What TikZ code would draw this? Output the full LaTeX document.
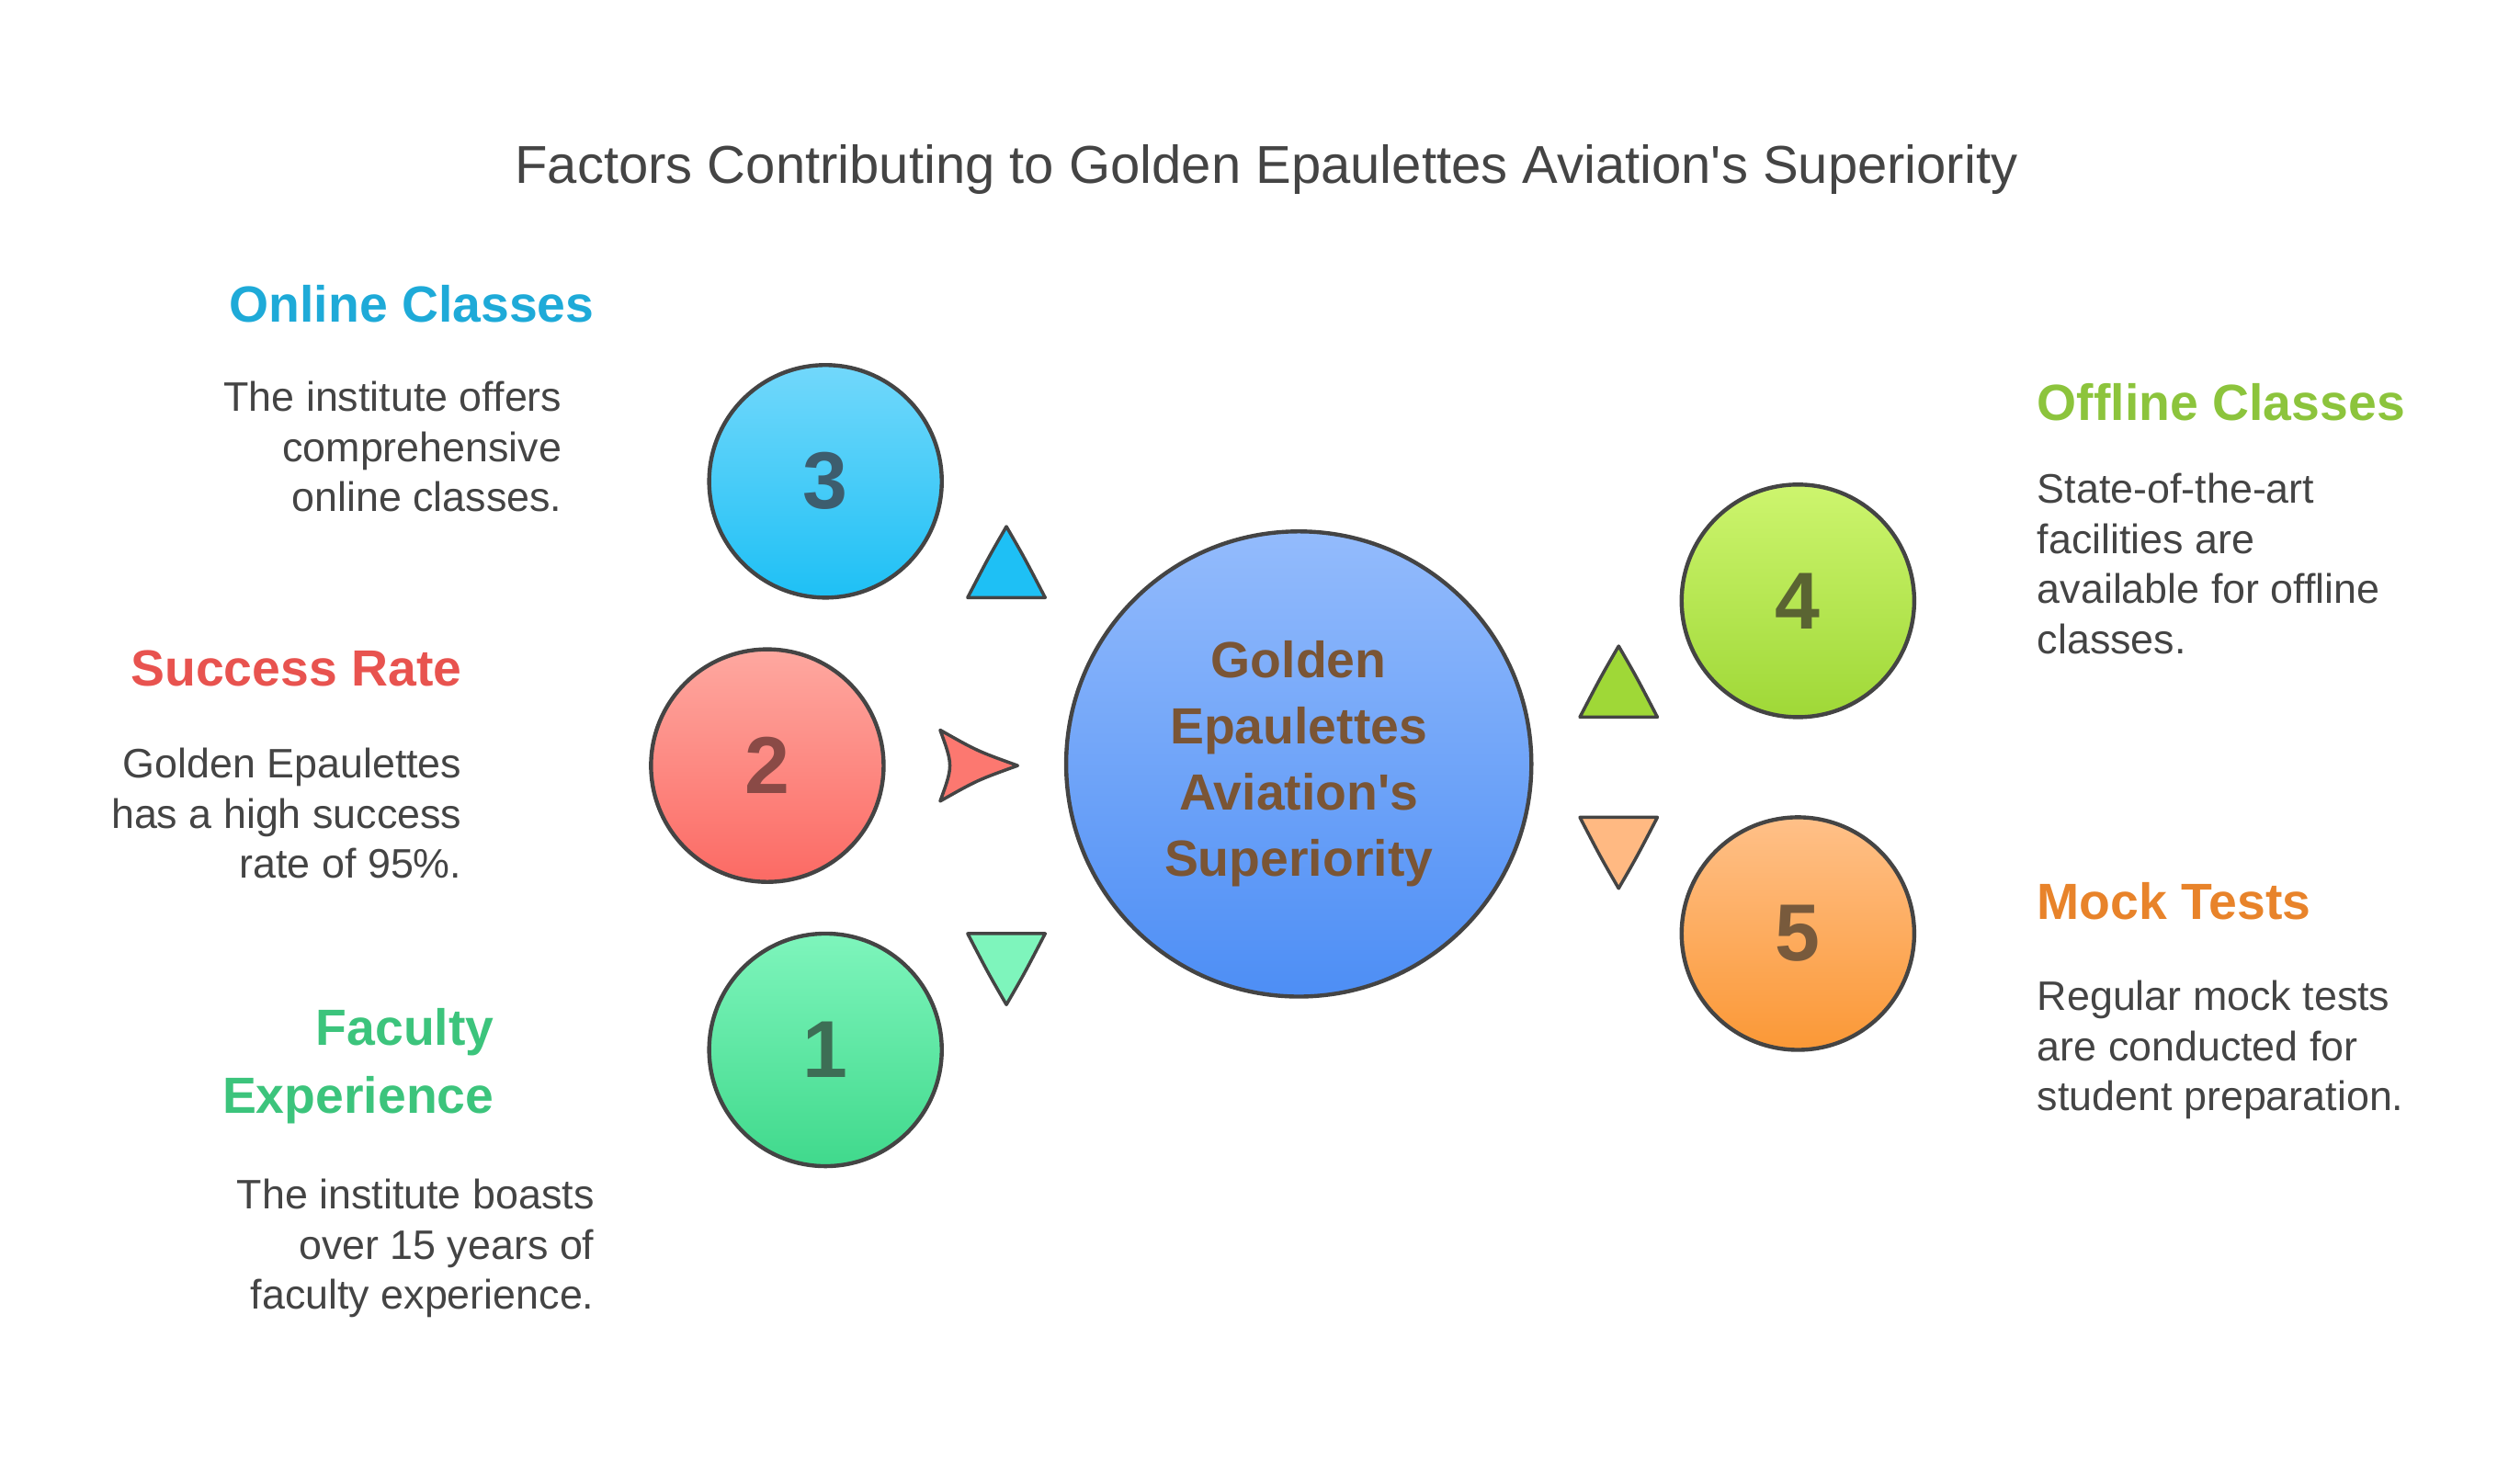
\documentclass[tikz,border=0pt]{standalone}
\usepackage{fontspec}
\setmainfont{Liberation Sans}
\definecolor{txt}{HTML}{444444}
\definecolor{brn}{HTML}{7A5535}
\begin{document}
\begin{tikzpicture}[x=1pt,y=-1pt,
  circ/.style={circle,draw=txt,line width=2.5pt,minimum size=144pt,inner sep=0pt,font=\fontsize{50}{50}\selectfont\bfseries},
  head/.style={inner sep=0pt,font=\fontsize{31.5}{31}\selectfont\bfseries},
  body/.style={inner sep=0pt,text=txt,font=\fontsize{25.5}{31}\selectfont},
  tri/.style={draw=txt,line width=2pt,line join=round}]
\useasboundingbox (0,0) rectangle (1560,905);
\node[text=txt,font=\fontsize{33}{36}\selectfont] (title) at (784,105) {Factors Contributing to Golden Epaulettes Aviation\textquotesingle s Superiority};
\node[circ,minimum size=288pt,bottom color={rgb,255:red,77;green,142;blue,245},top color={rgb,255:red,147;green,187;blue,252},text=brn,align=center,font=\fontsize{31.5}{41}\selectfont\bfseries] (c) at (804,473) {Golden\\Epaulettes\\Aviation\textquotesingle s\\Superiority};
\node[circ,top color={rgb,255:red,114;green,216;blue,251},bottom color={rgb,255:red,30;green,192;blue,245},text={rgb,255:red,61;green,93;blue,110}] (n3) at (511,298) {3};
\node[circ,top color={rgb,255:red,254;green,168;blue,160},bottom color={rgb,255:red,252;green,106;blue,100},text={rgb,255:red,138;green,74;blue,70}] (n2) at (475,474) {2};
\node[circ,top color={rgb,255:red,126;green,245;blue,188},bottom color={rgb,255:red,64;green,217;blue,140},text={rgb,255:red,61;green,110;blue,85}] (n1) at (511,650) {1};
\node[circ,top color={rgb,255:red,205;green,245;blue,110},bottom color={rgb,255:red,159;green,216;blue,55},text={rgb,255:red,90;green,100;blue,50}] (n4) at (1113,372) {4};
\node[circ,top color={rgb,255:red,255;green,192;blue,136},bottom color={rgb,255:red,251;green,152;blue,54},text={rgb,255:red,120;green,90;blue,60}] (n5) at (1113,578) {5};
% triangles
\draw[tri,fill={rgb,255:red,30;green,192;blue,245}] (623,326) .. controls (612,345) .. (599,370) -- (647,370) .. controls (634,345) .. cycle;
\draw[tri,fill={rgb,255:red,252;green,120;blue,112}] (630,474) .. controls (605,465) .. (582,452) .. controls (590,474) .. (582,496) .. controls (605,483) .. cycle;
\draw[tri,fill={rgb,255:red,126;green,245;blue,188}] (623,622) .. controls (612,603) .. (599,578) -- (647,578) .. controls (634,603) .. cycle;
\draw[tri,fill={rgb,255:red,159;green,216;blue,55}] (1002,400) .. controls (991,419) .. (978,444) -- (1026,444) .. controls (1013,419) .. cycle;
\draw[tri,fill={rgb,255:red,255;green,185;blue,130}] (1002,550) .. controls (991,531) .. (978,506) -- (1026,506) .. controls (1013,531) .. cycle;
% texts
\node[head,anchor=east,text={rgb,255:red,30;green,170;blue,216}] (h3) at (368,188) {Online Classes};
\node[body,anchor=north east,align=right] (b3) at (348,236) {The institute offers\\comprehensive\\online classes.};
\node[head,anchor=east,text={rgb,255:red,232;green,83;blue,79}] (h2) at (286,414) {Success Rate};
\node[body,anchor=north east,align=right] (b2) at (286,463) {Golden Epaulettes\\has a high success\\rate of 95\%.};
\node[head,anchor=north east,align=right,text={rgb,255:red,60;green,196;blue,124},font=\fontsize{31.5}{42}\selectfont\bfseries] (h1) at (306,624) {Faculty\\Experience};
\node[body,anchor=north east,align=right] (b1) at (368,730) {The institute boasts\\over 15 years of\\faculty experience.};
\node[head,anchor=west,text={rgb,255:red,140;green,196;blue,60}] (h4) at (1261,249) {Offline Classes};
\node[body,anchor=north west,align=left] (b4) at (1261,293) {State-of-the-art\\facilities are\\available for offline\\classes.};
\node[head,anchor=west,text={rgb,255:red,232;green,131;blue,42}] (h5) at (1261,558) {Mock Tests};
\node[body,anchor=north west,align=left] (b5) at (1261,607) {Regular mock tests\\are conducted for\\student preparation.};
\end{tikzpicture}
\end{document}
